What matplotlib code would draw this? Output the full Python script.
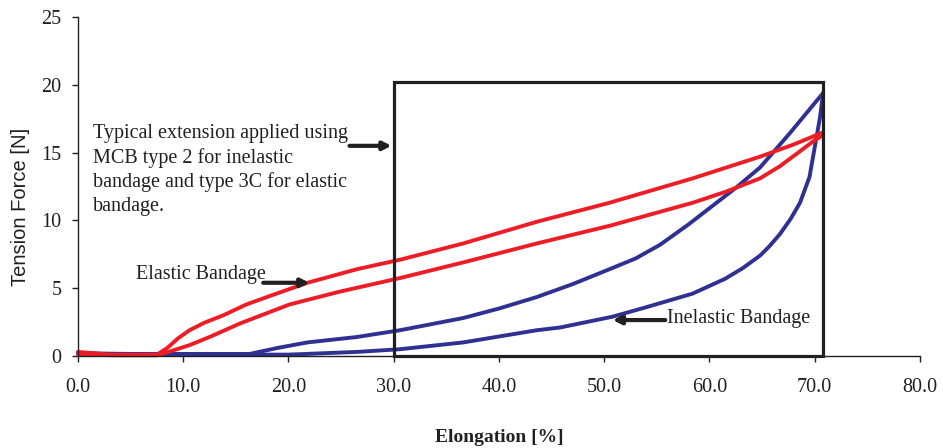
#!/usr/bin/env python3
"""Tension force versus elongation for elastic and inelastic bandages."""

import matplotlib

matplotlib.use("Agg")
import matplotlib.pyplot as plt
from matplotlib.patches import Rectangle

RED = "#ee1c25"
BLUE = "#2e3192"
DARK = "#231f20"
SERIF = ["Liberation Serif", "DejaVu Serif"]
SANS = ["Liberation Sans", "DejaVu Sans"]

# elastic bandage, loading (upper) and unloading (lower) branches
elastic_up_x = [0.0, 3.0, 7.5, 8.5, 9.5, 10.6, 12.0, 13.8, 16.0, 18.5, 21.8,
                26.5, 30.6, 36.6, 43.6, 50.5, 58.4, 64.8, 68.0, 70.8]
elastic_up_y = [0.3, 0.1, 0.1, 0.6, 1.3, 1.9, 2.45, 3.0, 3.8, 4.5, 5.4,
                6.4, 7.1, 8.3, 9.9, 11.3, 13.1, 14.7, 15.6, 16.5]
elastic_down_x = [70.8, 69.8, 68.6, 66.7, 64.8, 61.5, 58.4, 50.5, 43.6, 36.6,
                  30.6, 24.9, 20.1, 15.4, 12.5, 10.6, 9.0, 7.5, 4.0, 0.0]
elastic_down_y = [16.3, 15.8, 15.1, 14.0, 13.1, 12.1, 11.3, 9.6, 8.3, 6.9,
                  5.75, 4.75, 3.8, 2.4, 1.4, 0.8, 0.4, 0.05, 0.05, 0.1]

# inelastic bandage
inelastic_up_x = [0.0, 5.0, 10.0, 16.3, 19.0, 21.8, 26.5, 30.6, 36.6, 40.0,
                  43.6, 47.0, 50.5, 53.0, 55.3, 58.0, 60.0, 62.5, 64.8, 67.6, 70.8]
inelastic_up_y = [0.2, 0.15, 0.15, 0.15, 0.6, 1.0, 1.4, 1.9, 2.8, 3.5,
                  4.35, 5.3, 6.4, 7.2, 8.2, 9.7, 10.9, 12.4, 13.9, 16.4, 19.4]
inelastic_down_x = [70.8, 70.5, 70.0, 69.5, 68.6, 67.7, 66.7, 65.7, 64.8, 63.2,
                    61.5, 58.4, 54.0, 50.8, 45.8, 43.6, 36.6, 30.6, 26.5, 20.0,
                    15.0, 10.0, 5.0, 0.0]
inelastic_down_y = [19.4, 17.6, 15.4, 13.2, 11.3, 10.1, 9.0, 8.1, 7.4, 6.5,
                    5.7, 4.6, 3.6, 2.9, 2.1, 1.9, 1.0, 0.5, 0.3, 0.1,
                    0.1, 0.1, 0.1, 0.2]

x_ticks = [0, 10, 20, 30, 40, 50, 60, 70, 80]
y_ticks = [0, 5, 10, 15, 20, 25]

box_x = (30.0, 70.8)
box_top = 20.2


def main() -> None:
    fig = plt.figure(figsize=(9.43, 4.48), dpi=100)
    ax = fig.add_axes([0.0827, 0.2054, 0.8929, 0.7566])

    for xs, ys, color in [
        (inelastic_up_x, inelastic_up_y, BLUE),
        (inelastic_down_x, inelastic_down_y, BLUE),
        (elastic_up_x, elastic_up_y, RED),
        (elastic_down_x, elastic_down_y, RED),
    ]:
        ax.plot(xs, ys, color=color, lw=2.8, solid_capstyle="round",
                solid_joinstyle="round", clip_on=False)

    ax.add_patch(Rectangle((box_x[0], 0), box_x[1] - box_x[0], box_top,
                           fill=False, edgecolor=DARK, lw=2.3, clip_on=False,
                           zorder=3))

    ax.set_xlim(0, 80)
    ax.set_ylim(0, 25)
    ax.set_xticks(x_ticks)
    ax.set_xticklabels([f"{v:.1f}" for v in x_ticks])
    ax.set_yticks(y_ticks)
    ax.set_yticklabels([str(v) for v in y_ticks])
    for lab in ax.get_xticklabels() + ax.get_yticklabels():
        lab.set_family(SERIF)
        lab.set_fontsize(14.5)
        lab.set_color(DARK)
    ax.tick_params(axis="x", direction="out", length=4, width=1, pad=12, colors=DARK)
    ax.tick_params(axis="y", direction="out", length=4, width=1, pad=8, colors=DARK)
    for side in ("top", "right"):
        ax.spines[side].set_visible(False)
    for side in ("left", "bottom"):
        ax.spines[side].set_color(DARK)
        ax.spines[side].set_linewidth(1.0)

    ax.set_xlabel("Elongation [%]", family=SERIF, fontweight="bold", fontsize=14,
                  color=DARK)
    ax.xaxis.set_label_coords(0.5, -0.215)
    ax.set_ylabel("Tension Force [N]", family=SANS, fontsize=14.5, color=DARK)
    ax.yaxis.set_label_coords(-0.057, 0.44)

    arrow = dict(arrowstyle="-|>", color=DARK, lw=3, mutation_scale=12,
                 shrinkA=0, shrinkB=0)
    ax.text(1.4, 17.1, "Typical extension applied using\nMCB type 2 for inelastic\n"
            "bandage and type 3C for elastic\nbandage.", family=SERIF, fontsize=14.5,
            color=DARK, va="top", ha="left", linespacing=1.32)
    ax.annotate("", xy=(29.8, 15.5), xytext=(25.8, 15.5), arrowprops=arrow)

    ax.text(5.5, 6.0, "Elastic Bandage", family=SERIF, fontsize=14.5, color=DARK,
            va="center", ha="left")
    ax.annotate("", xy=(22.0, 5.4), xytext=(17.6, 5.4), arrowprops=arrow)

    ax.text(56.0, 2.8, "Inelastic Bandage", family=SERIF, fontsize=14.5, color=DARK,
            va="center", ha="left")
    ax.annotate("", xy=(50.8, 2.65), xytext=(55.8, 2.65), arrowprops=arrow)

    fig.savefig("out.png", dpi=100)
    plt.close(fig)


if __name__ == "__main__":
    main()
